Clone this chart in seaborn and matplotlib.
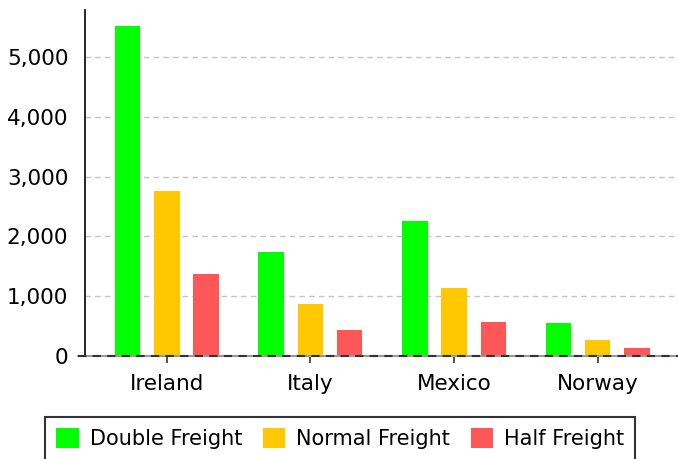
import numpy as np
import pandas as pd
import matplotlib
matplotlib.use("Agg")
import matplotlib.pyplot as plt
import seaborn as sns

# values
countries = ["Ireland", "Italy", "Mexico", "Norway"]
series = ["Double Freight", "Normal Freight", "Half Freight"]
double_freight = [5520, 1740, 2260, 552]
normal_freight = [2760, 870, 1130, 276]
half_freight = [1380, 435, 565, 138]
colors = ["#00ff00", "#ffc800", "#ff5757"]

rows = []
for name, vals in zip(series, [double_freight, normal_freight, half_freight]):
    for c, v in zip(countries, vals):
        rows.append({"country": c, "series": name, "value": v})
df = pd.DataFrame(rows)

sns.set_style("white")
plt.rcParams["font.family"] = ["DejaVu Sans"]
plt.rcParams["text.color"] = "black"
plt.rcParams["xtick.color"] = "black"
plt.rcParams["ytick.color"] = "black"

W, H = 678, 459
fig = plt.figure(figsize=(W / 100, H / 100), dpi=100)
ax = fig.add_axes([85 / W, 1 - 356 / H, (W - 85) / W, (356 - 10) / H])

sns.barplot(data=df, x="country", y="value", hue="series", hue_order=series,
            palette=colors, width=0.82, gap=0.35, saturation=1,
            edgecolor="none", linewidth=0, ax=ax, legend=True)

ax.set_xlim(-0.57, 3.56)
ax.set_ylim(0, 5790)
ax.set_yticks([0, 1000, 2000, 3000, 4000, 5000])
ax.yaxis.set_major_formatter(matplotlib.ticker.FuncFormatter(lambda v, p: f"{int(v):,}"))
ax.set_xlabel("")
ax.set_ylabel("")

for y in [1000, 2000, 3000, 4000, 5000]:
    ax.axhline(y, color="#c4c4c4", linestyle=(0, (4, 3)), linewidth=1, zorder=0)
# zero line: gray base with dark dashes
ax.axhline(0, xmin=-0.011, color="#9a9a9a", linewidth=1.5, zorder=3, clip_on=False)
ax.axhline(0, xmin=-0.011, color="#333333", linestyle=(0, (4, 3)), linewidth=1.5,
           zorder=4, clip_on=False)

for s in ["top", "right", "bottom"]:
    ax.spines[s].set_visible(False)
ax.spines["left"].set_color("black")
ax.spines["left"].set_linewidth(1.2)

ax.tick_params(axis="y", length=0, labelsize=15.5, pad=12, labelcolor="black")
ax.tick_params(axis="x", length=5, width=1.2, color="#333333", labelsize=15.5, pad=8,
               bottom=True, labelcolor="black")

handles, labels = ax.get_legend_handles_labels()
ax.legend_.remove()
leg = fig.legend(handles, labels, loc="upper left", ncol=3,
                 bbox_to_anchor=(45 / W, 1 - 417 / H),
                 frameon=True, fancybox=False, fontsize=15,
                 handlelength=1.06, handleheight=1.06, handletextpad=0.53,
                 columnspacing=1.0, borderpad=0.55, borderaxespad=0)
leg.get_frame().set_edgecolor("black")
leg.get_frame().set_linewidth(1.5)
for t in leg.get_texts():
    t.set_color("black")

fig.savefig("out.png", dpi=100)
